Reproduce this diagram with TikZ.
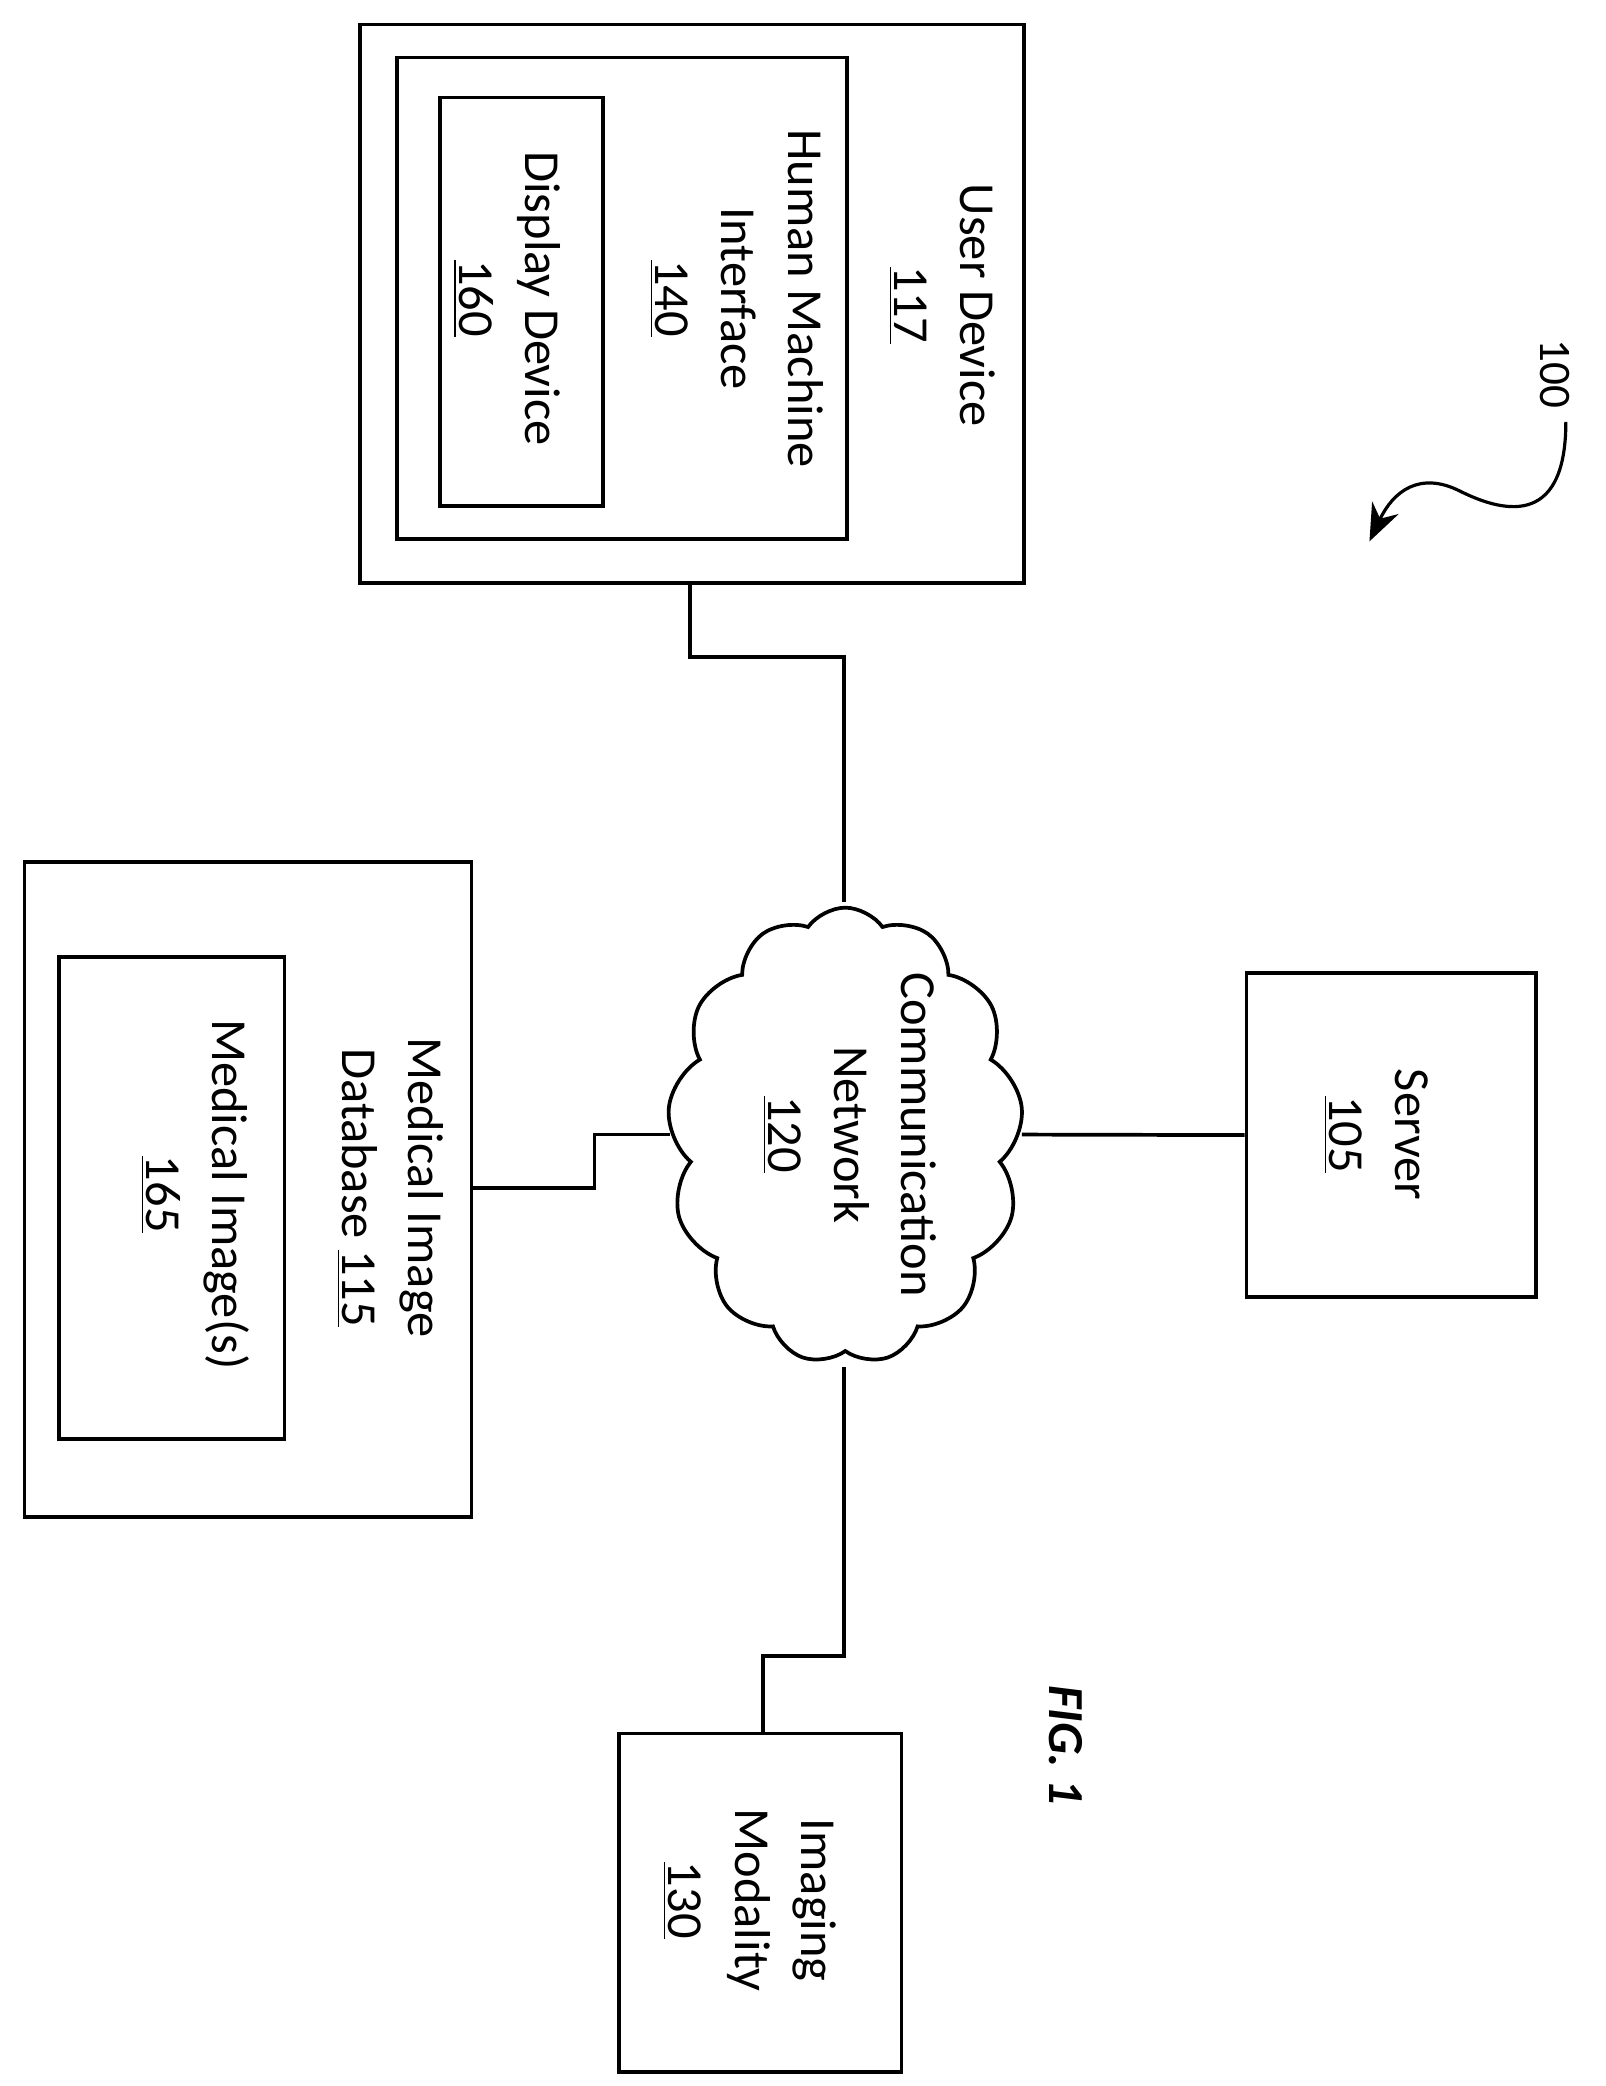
\documentclass[tikz,border=0pt]{standalone}
\usepackage{fontspec}
\setmainfont{Carlito}
\usetikzlibrary{shapes.symbols,arrows.meta}
\begin{document}
\begin{tikzpicture}[x=0.5pt,y=-0.5pt,
 box/.style={draw,line width=1.4pt,anchor=north west,inner sep=0},
 lab/.style={rotate=-90,align=center,font=\fontsize{19}{25}\selectfont},
 wire/.style={line width=1.4pt}]
\useasboundingbox (0,0) rectangle (1210,1572);
% boxes
\node[box,minimum width=250pt,minimum height=210.5pt] (ud) at (270,17) {};
\node[box,minimum width=169.5pt,minimum height=181.5pt] (hmi) at (298,42) {};
\node[box,minimum width=61.5pt,minimum height=154pt] (dd) at (330,72) {};
\node[box,minimum width=168.5pt,minimum height=247pt] (db) at (17,648) {};
\node[box,minimum width=85pt,minimum height=181.5pt] (mi) at (43,720) {};
\node[box,minimum width=109pt,minimum height=122pt] (sv) at (938,732) {};
\node[box,minimum width=106.5pt,minimum height=127.5pt] (im) at (465,1305) {};
\node[draw,line width=1.4pt,cloud,cloud puffs=13,cloud puff arc=110,aspect=0.75,minimum width=134pt,minimum height=172pt] (net) at (637,856) {};
% labels
\node[lab] (t1) at (710,230) {User Device\\\underline{117}};
\node[lab] (t2) at (555,225) {Human Machine\\Interface\\\underline{140}};
\node[lab] (t3) at (382,225) {Display Device\\\underline{160}};
\node[lab] (t4) at (294,895) {Medical Image\\Database \underline{115}};
\node[lab] (t5) at (147,900) {Medical Image(s)\\\underline{165}};
\node[lab] (t6) at (640,855) {Communication\\Network\\\underline{120}};
\node[lab] (t7) at (1037,855) {Server\\\underline{105}};
\node[lab] (t8) at (565,1432) {Imaging\\Modality\\\underline{130}};
\node[rotate=-90,font=\fontsize{19}{25}\selectfont\bfseries\itshape] (fig) at (803,1315) {FIG. 1};
\node[rotate=-90,font=\fontsize{17}{20}\selectfont] (n100) at (1172,282) {100};
% connectors
\draw[wire] (ud.south west)++(250,0) coordinate (a0);
\coordinate (a1) at (520,438);
\draw[wire] (a1) -- (520,495) -- (636,495) -- (636,680);
\draw[wire] (354,895) -- (448,895) -- (448,855) -- (505,855);
\draw[wire] (770,855) -- (sv.west);
\draw[wire] (636,1030) -- (636,1248) -- (575,1248) -- (575,1305);
\coordinate (s0) at (1180,318);
\coordinate (s1) at (1032,408);
\draw[line width=1.2pt,-{Stealth[length=14pt,width=11pt]}] (s0) .. controls (1180,400) and (1130,385) .. (1100,370) .. controls (1070,355) and (1050,370) .. (s1);
\end{tikzpicture}
\end{document}
